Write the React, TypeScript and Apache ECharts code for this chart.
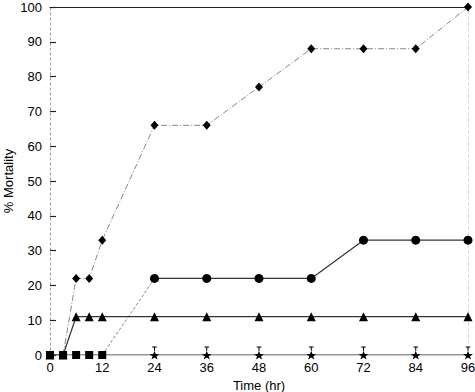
import React, { useEffect, useRef } from "react";
import * as echarts from "echarts";

const hours = [0, 3, 6, 9, 12, 24, 36, 48, 60, 72, 84, 96];
const diamondSeries = [0, 0, 22, 22, 33, 66, 66, 77, 88, 88, 88, 100];
const circleSeries = [0, 0, 0, 0, 0, 22, 22, 22, 22, 33, 33, 33];
const triangleSeries = [0, 0, 11, 11, 11, 11, 11, 11, 11, 11, 11, 11];
const zeroSeries = [0, 0, 0, 0, 0, 0, 0, 0, 0, 0, 0, 0];
const xTicks = [0, 12, 24, 36, 48, 60, 72, 84, 96];
const yTicks = [0, 10, 20, 30, 40, 50, 60, 70, 80, 90, 100];

const starPath =
  "path://M0,-5 L1.18,-1.62 L4.76,-1.55 L1.9,0.62 L2.94,4.05 L0,2 L-2.94,4.05 L-1.9,0.62 L-4.76,-1.55 L-1.18,-1.62 Z M-0.5,-9 L0.5,-9 L0.5,-5 L-0.5,-5 Z M-2.2,-9.5 L2.2,-9.5 L2.2,-8.5 L-2.2,-8.5 Z";

const pairs = (ys: number[]) => hours.map((h, i) => [h, ys[i]]);

export default function App() {
  const ref = useRef<HTMLDivElement>(null);
  useEffect(() => {
    if (!ref.current) return;
    const chart = echarts.init(ref.current, null, { renderer: "svg" });
    const font = "Liberation Sans, Arial, sans-serif";
    const zeroPts = pairs(zeroSeries);
    const circlePts = pairs(circleSeries);
    chart.setOption({
      animation: false,
      backgroundColor: "#fff",
      grid: { left: 50, right: 7, top: 7, bottom: 37, containLabel: false, outerBoundsMode: "none" },
      xAxis: [
        {
          type: "value",
          min: 0,
          max: 96,
          interval: 12,
          name: "Time (hr)",
          nameLocation: "middle",
          nameGap: 20,
          nameTextStyle: { fontFamily: font, fontSize: 13, color: "#000" },
          axisLine: { show: false },
          axisTick: { show: false },
          splitLine: { show: false },
          axisLabel: {
            fontFamily: font,
            fontSize: 13,
            color: "#000",
            margin: 6,
            formatter: (v: number) => (xTicks.includes(v) ? String(v) : ""),
          },
        },
        {
          type: "value",
          position: "top",
          min: 0,
          max: 96,
          axisLine: { show: true, onZero: false, lineStyle: { color: "#222", width: 1.2 } },
          axisTick: { show: false },
          axisLabel: { show: false },
          splitLine: { show: false },
        },
      ],
      yAxis: [
        {
          type: "value",
          min: 0,
          max: 100,
          interval: 10,
          name: "% Mortality",
          nameLocation: "middle",
          nameGap: 35,
          nameMoveOverlap: false,
          nameTextStyle: { fontFamily: font, fontSize: 13, color: "#000" },
          axisLine: { show: true, onZero: false, lineStyle: { color: "#999", type: [2, 3], width: 1 } },
          axisTick: { show: true, inside: true, length: 6, lineStyle: { color: "#222", width: 1.2 } },
          splitLine: { show: false },
          axisLabel: {
            fontFamily: font,
            fontSize: 13,
            color: "#000",
            margin: 8,
            formatter: (v: number) => (yTicks.includes(v) ? String(v) : ""),
          },
        },
        {
          type: "value",
          position: "right",
          min: 0,
          max: 100,
          axisLine: { show: true, onZero: false, lineStyle: { color: "#ccc", type: [2, 4], width: 1 } },
          axisTick: { show: false },
          axisLabel: { show: false },
          splitLine: { show: false },
        },
      ],
      series: [
        {
          type: "line",
          name: "zero",
          data: zeroPts,
          symbol: "none",
          lineStyle: { color: "#333", width: 1.2 },
          z: 1,
        },
        {
          type: "line",
          name: "zeroSquares",
          data: zeroPts.slice(0, 5),
          symbol: "rect",
          symbolSize: 8,
          itemStyle: { color: "#000" },
          lineStyle: { width: 0 },
          z: 5,
        },
        {
          type: "line",
          name: "zeroStars",
          data: zeroPts.slice(5),
          symbol: starPath,
          symbolSize: [10, 13],
          symbolOffset: [0, -2],
          itemStyle: { color: "#000" },
          lineStyle: { width: 0 },
          z: 5,
        },
        {
          type: "line",
          name: "triangles",
          data: pairs(triangleSeries),
          symbol: "triangle",
          symbolSize: 9,
          itemStyle: { color: "#000" },
          lineStyle: { color: "#333", width: 1.2 },
          z: 3,
        },
        {
          type: "line",
          name: "circlesRise",
          data: circlePts.slice(4, 6),
          symbol: "none",
          lineStyle: { color: "#666", width: 0.8, type: [3, 2] },
          z: 2,
        },
        {
          type: "line",
          name: "circles",
          data: circlePts.slice(5),
          symbol: "circle",
          symbolSize: 9,
          itemStyle: { color: "#000" },
          lineStyle: { color: "#333", width: 1.2 },
          z: 3,
        },
        {
          type: "line",
          name: "diamonds",
          data: pairs(diamondSeries).slice(1),
          symbol: "diamond",
          symbolSize: [8, 9],
          itemStyle: { color: "#000" },
          lineStyle: { color: "#777", width: 0.9, type: [6, 2, 1, 2] },
          z: 4,
        },
      ],
    });
    return () => chart.dispose();
  }, []);
  return (
    <div
      ref={ref}
      style={{ position: "absolute", left: 0, top: 0, width: 475, height: 392 }}
    />
  );
}
